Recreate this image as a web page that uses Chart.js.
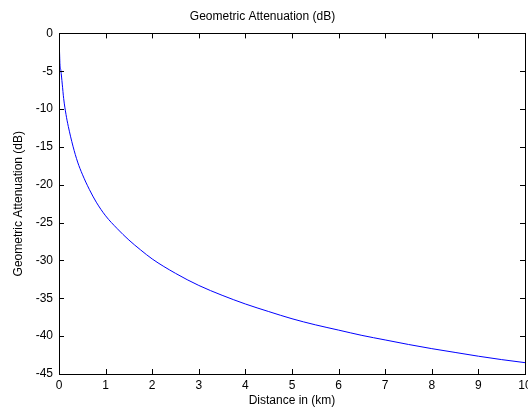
<!DOCTYPE html>
<html>
<head>
<meta charset="utf-8">
<script src="https://cdn.jsdelivr.net/npm/chart.js@4"></script>
<style>
  body { margin: 0; background: #fff; }
  #wrap { width: 528px; height: 409px; }
</style>
</head>
<body>
<div id="wrap"><canvas id="grafico" width="528" height="409"></canvas></div>
<script>
// data
const distKm = [0, 0.005, 0.01, 0.015, 0.02, 0.04, 0.07, 0.1, 0.15, 0.2, 0.3, 0.4, 0.5, 0.65, 0.8,
    1.0, 1.25, 1.5, 1.75, 2.0, 2.5, 3.0, 3.5, 4.0, 4.5, 5.0, 5.5, 6.0, 6.5, 7.0, 7.5, 8.0, 8.5, 9.0, 9.5, 10.0];
const attenDb = [-0.5, -1.2, -2.2, -3.1, -4.0, -4.9, -6.7, -8.6, -10.7, -12.3, -14.9, -17.0, -18.6, -20.6, -22.3,
    -24.1, -25.8, -27.3, -28.6, -29.8, -31.7, -33.3, -34.6, -35.75, -36.75, -37.7, -38.5, -39.2, -39.9, -40.5, -41.1, -41.65, -42.15, -42.65, -43.1, -43.5];

const xTicks = [0, 1, 2, 3, 4, 5, 6, 7, 8, 9, 10];
const yTicks = [-45, -40, -35, -30, -25, -20, -15, -10, -5, 0];

const FONT = "'Liberation Sans', Arial, sans-serif";

// box + inward tick marks (matlab style)
const caixa = {
    id: "caixa",
    afterDraw(chart) {
        const c = chart.ctx;
        const a = chart.chartArea;
        const sx = chart.scales.x;
        const sy = chart.scales.y;
        c.save();
        c.strokeStyle = "#000";
        c.lineWidth = 1;
        c.beginPath();
        xTicks.forEach(v => {
            const px = Math.round(sx.getPixelForValue(v)) + 0.5;
            c.moveTo(px, a.bottom); c.lineTo(px, a.bottom - 5);
            c.moveTo(px, a.top); c.lineTo(px, a.top + 5);
        });
        yTicks.forEach(v => {
            const py = Math.round(sy.getPixelForValue(v)) + 0.5;
            c.moveTo(a.left, py); c.lineTo(a.left + 5, py);
            c.moveTo(a.right, py); c.lineTo(a.right - 5, py);
        });
        c.stroke();
        c.strokeRect(Math.round(a.left) + 0.5, Math.round(a.top) + 0.5,
            Math.round(a.right - a.left), Math.round(a.bottom - a.top));
        c.restore();
    }
};

function semPadding(s) {
    s.paddingLeft = 0;
    s.paddingRight = 0;
    s.paddingTop = 0;
    s.paddingBottom = 0;
}

const grafico = new Chart(document.getElementById("grafico"), {
    type: "line",
    data: {
        datasets: [{
            data: distKm.map((d, i) => ({ x: d, y: attenDb[i] })),
            borderColor: "#0000ff",
            borderWidth: 1,
            pointRadius: 0,
            cubicInterpolationMode: "monotone",
            fill: false
        }]
    },
    options: {
        responsive: false,
        animation: false,
        layout: { padding: { top: 0, right: 3, left: 0, bottom: 0 } },
        plugins: {
            legend: { display: false },
            tooltip: { enabled: false },
            title: {
                display: true,
                text: "Geometric Attenuation (dB)",
                color: "#000",
                font: { family: FONT, size: 12, weight: "normal" },
                padding: { top: 9, bottom: 10 }
            }
        },
        scales: {
            x: {
                type: "linear",
                min: 0, max: 10,
                afterBuildTicks: s => { s.ticks = xTicks.map(v => ({ value: v })); },
                afterFit: s => { s.height = 35; semPadding(s); },
                grid: { display: false, drawTicks: false },
                border: { display: false },
                ticks: { color: "#000", font: { family: FONT, size: 12 }, padding: 4, maxRotation: 0 },
                title: {
                    display: true, text: "Distance in (km)", color: "#000",
                    font: { family: FONT, size: 12 }, padding: { top: 0, bottom: 1 }
                }
            },
            y: {
                type: "linear",
                min: -45, max: 0,
                afterBuildTicks: s => { s.ticks = yTicks.map(v => ({ value: v })); },
                afterFit: s => { s.width = 59; semPadding(s); },
                grid: { display: false, drawTicks: false },
                border: { display: false },
                ticks: { color: "#000", font: { family: FONT, size: 12 }, padding: 6 },
                title: {
                    display: true, text: "Geometric Attenuation (dB)", color: "#000",
                    font: { family: FONT, size: 12 }, padding: { top: 11, bottom: 0 }
                }
            }
        }
    },
    plugins: [caixa]
});
</script>
</body>
</html>
